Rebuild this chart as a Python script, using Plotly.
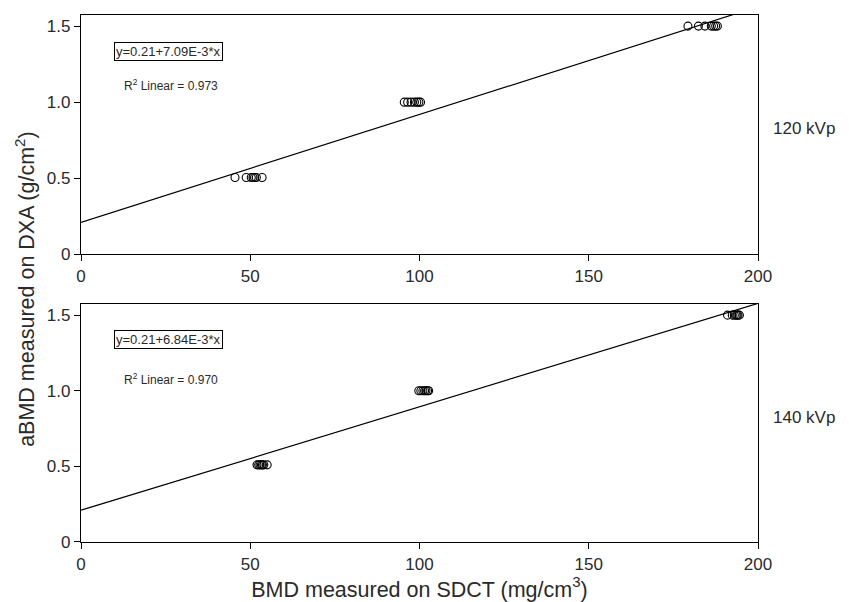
import plotly.graph_objects as go

# ---- data ----
kv120_sdct = [45.5, 48.8, 50.3, 50.8, 51.3, 51.8, 53.5,
              95.5, 96.5, 97.5, 98.5, 99.2, 99.8, 100.3,
              179.3, 182.4, 184.3, 186.2, 186.9, 187.5, 188.0]
kv120_dxa = [0.505, 0.505, 0.505, 0.505, 0.505, 0.505, 0.505,
             1.0, 1.0, 1.0, 1.0, 1.0, 1.0, 1.0,
             1.5, 1.5, 1.5, 1.5, 1.5, 1.5, 1.5]
kv140_sdct = [52.0, 52.5, 52.9, 53.3, 53.6, 54.0, 55.0,
              99.8, 100.4, 101.0, 101.5, 101.9, 102.4, 102.7,
              191.0, 192.4, 193.0, 193.5, 193.8, 194.1, 194.5]
kv140_dxa = [0.51, 0.51, 0.51, 0.51, 0.51, 0.51, 0.51,
             1.0, 1.0, 1.0, 1.0, 1.0, 1.0, 1.0,
             1.5, 1.5, 1.5, 1.5, 1.5, 1.5, 1.5]
fit120 = (0.21, 7.09e-3)
fit140 = (0.21, 6.84e-3)
fit_x = [0, 200]
x_ticks = [0, 50, 100, 150, 200]
y_ticks = [0, 0.5, 1.0, 1.5]
y_ticklabels = ["0", "0.5", "1.0", "1.5"]

FONT = "Liberation Sans, Arial, sans-serif"
TXT = "#2a2a2a"

fig = go.Figure()
marker = dict(symbol="circle-open", size=8, color="black", line=dict(width=1.1, color="black"))

fig.add_trace(go.Scatter(x=kv120_sdct, y=kv120_dxa, mode="markers", marker=marker,
                         xaxis="x", yaxis="y", showlegend=False))
fig.add_trace(go.Scatter(x=fit_x, y=[fit120[0] + fit120[1] * v for v in fit_x], mode="lines",
                         line=dict(color="black", width=1.2), xaxis="x", yaxis="y", showlegend=False))
fig.add_trace(go.Scatter(x=kv140_sdct, y=kv140_dxa, mode="markers", marker=marker,
                         xaxis="x2", yaxis="y2", showlegend=False))
fig.add_trace(go.Scatter(x=fit_x, y=[fit140[0] + fit140[1] * v for v in fit_x], mode="lines",
                         line=dict(color="black", width=1.2), xaxis="x2", yaxis="y2", showlegend=False))

xa = dict(range=[0, 200], tickvals=x_ticks, ticks="outside", ticklen=6, tickwidth=1.2,
          tickcolor="black", showline=True, linecolor="black", linewidth=1.2, mirror=True,
          showgrid=False, zeroline=False, tickfont=dict(family=FONT, size=17, color=TXT))
ya = dict(tickvals=y_ticks, ticktext=y_ticklabels, ticks="outside", ticklen=6, tickwidth=1.2,
          tickcolor="black", showline=True, linecolor="black", linewidth=1.2, mirror=True,
          showgrid=False, zeroline=False, tickfont=dict(family=FONT, size=17, color=TXT))

fig.update_layout(
    width=841, height=594,
    margin=dict(l=73, r=91, t=7, b=60),
    plot_bgcolor="white", paper_bgcolor="white",
    xaxis=dict(xa, domain=[0, 1], anchor="y"),
    yaxis=dict(ya, domain=[0.546, 1], range=[0, 1.573], anchor="x"),
    xaxis2=dict(xa, domain=[0, 1], anchor="y2",
                title=dict(text="BMD measured on SDCT (mg/cm<sup>3</sup>)",
                           font=dict(family=FONT, size=21.5, color=TXT), standoff=2)),
    yaxis2=dict(ya, domain=[0, 0.452], range=[0, 1.575], anchor="x2"),
    font=dict(family=FONT, color=TXT),
)

ann = []
ann.append(dict(text="aBMD measured on DXA (g/cm<sup>2</sup>)", textangle=-90, xref="paper", yref="paper",
                x=-0.083, y=0.48, showarrow=False, font=dict(family=FONT, size=21.5, color=TXT),
                xanchor="center", yanchor="middle"))
ann.append(dict(text="120 kVp", xref="paper", yref="paper", x=1.068, y=0.784, showarrow=False,
                xanchor="center", yanchor="middle",
                font=dict(family=FONT, size=17, color=TXT)))
ann.append(dict(text="140 kVp", xref="paper", yref="paper", x=1.068, y=0.236, showarrow=False,
                xanchor="center", yanchor="middle",
                font=dict(family=FONT, size=17, color=TXT)))
ann.append(dict(text="y=0.21+7.09E-3*x", xref="x", yref="y", x=25.8, y=1.331, showarrow=False,
                bordercolor="black", borderwidth=1, borderpad=1,
                font=dict(family=FONT, size=13, color=TXT)))
ann.append(dict(text="R<sup>2</sup> Linear = 0.973", xref="x", yref="y", x=26.5, y=1.111, showarrow=False,
                font=dict(family=FONT, size=12, color=TXT)))
ann.append(dict(text="y=0.21+6.84E-3*x", xref="x2", yref="y2", x=25.8, y=1.339, showarrow=False,
                bordercolor="black", borderwidth=1, borderpad=1,
                font=dict(family=FONT, size=13, color=TXT)))
ann.append(dict(text="R<sup>2</sup> Linear = 0.970", xref="x2", yref="y2", x=26.5, y=1.078, showarrow=False,
                font=dict(family=FONT, size=12, color=TXT)))
fig.update_layout(annotations=ann)

fig.write_html("out.html")
